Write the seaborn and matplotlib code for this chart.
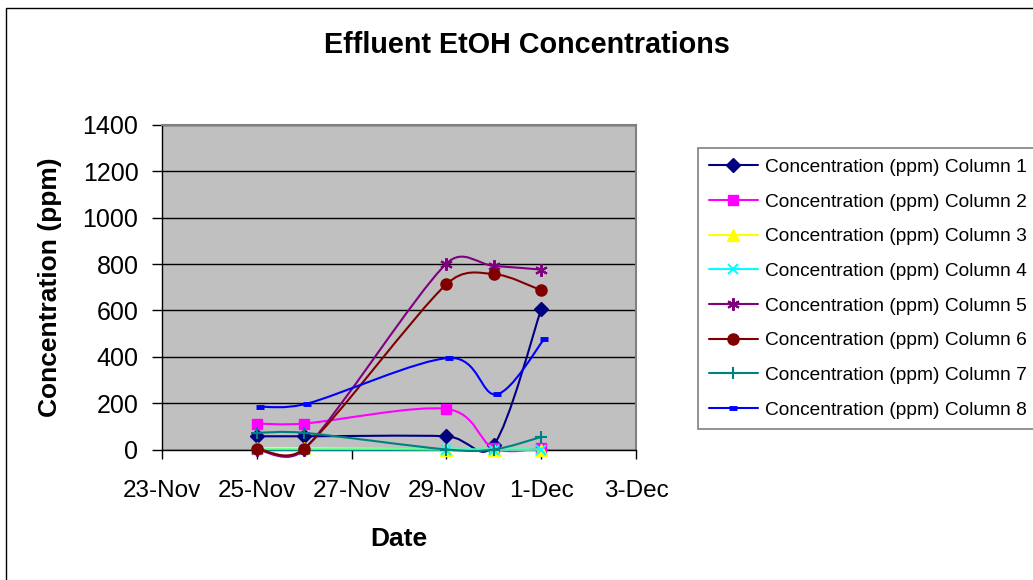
import numpy as np
import pandas as pd
import seaborn as sns
import matplotlib
matplotlib.use("Agg")
import matplotlib.pyplot as plt
import matplotlib.dates as mdates
from matplotlib.path import Path
from matplotlib.patches import PathPatch, Rectangle
from matplotlib.lines import Line2D


dates = pd.to_datetime(["2005-11-25", "2005-11-26", "2005-11-29", "2005-11-30", "2005-12-01"])
dates_col8 = pd.to_datetime(["2005-11-25 01:30", "2005-11-26 01:30", "2005-11-29 01:30",
                             "2005-11-30 01:30", "2005-12-01 01:30"])

col1 = [57, 57, 57, 20, 605]
col2 = [112, 112, 175, 5, 5]
col3 = [6, 6, 0, 0, 0]
col4 = [0, 0, 0, 0, 0]
col5 = [0, 0, 802, 792, 776]
col6 = [4, 4, 713, 757, 687]
col7 = [72, 72, 0, 0, 54]
col8 = [184, 198, 395, 238, 476]

tick_labels = ["23-Nov", "25-Nov", "27-Nov", "29-Nov", "1-Dec", "3-Dec"]
tick_dates = pd.to_datetime(["2005-11-23", "2005-11-25", "2005-11-27",
                             "2005-11-29", "2005-12-01", "2005-12-03"])

series = [
    ("Concentration (ppm) Column 1", dates, col1, "#000080", "D", 7, 1),
    ("Concentration (ppm) Column 2", dates, col2, "#FF00FF", "s", 7.5, 1),
    ("Concentration (ppm) Column 3", dates, col3, "#FFFF00", "^", 8, 1),
    ("Concentration (ppm) Column 4", dates, col4, "#00FFFF", "x", 7.5, 1.5),
    ("Concentration (ppm) Column 5", dates, col5, "#800080", (6, 2, 0), 9, 1.5),
    ("Concentration (ppm) Column 6", dates, col6, "#800000", "o", 8, 1),
    ("Concentration (ppm) Column 7", dates, col7, "#008080", "+", 9, 1.5),
    ("Concentration (ppm) Column 8", dates_col8, col8, "#0000FF", "_", 6, 3.5),
]


def smooth_path(ax, x, y, k=1 / 6):
    # excel-ish smoothed line, bezier handles capped at half the segment (in pixels)
    pts = ax.transData.transform(np.column_stack([x, y]).astype(float))
    n = len(pts)
    verts = [pts[0]]
    codes = [Path.MOVETO]
    for i in range(n - 1):
        p0 = pts[max(i - 1, 0)]
        p1 = pts[i]
        p2 = pts[i + 1]
        p3 = pts[min(i + 2, n - 1)]
        seg = np.hypot(*(p2 - p1))
        h1 = (p2 - p0) * k
        h2 = (p3 - p1) * k
        for h in (h1, h2):
            ln = np.hypot(*h)
            if ln > seg / 2:
                h *= (seg / 2) / ln
        verts += [p1 + h1, p2 - h2, p2]
        codes += [Path.CURVE4] * 3
    verts = ax.transData.inverted().transform(np.array(verts))
    return Path(verts, codes)


sns.set_style("white")
plt.rcParams['font.family'] = ['Liberation Sans', 'DejaVu Sans']
plt.rcParams.update({"text.color": "black", "axes.labelcolor": "black",
                     "xtick.color": "black", "ytick.color": "black"})

W, H = 1033, 580
fig = plt.figure(figsize=(W / 100, H / 100), dpi=100)
ax = fig.add_axes([162 / W, 1 - 449.5 / H, 474 / W, 324.5 / H])
ax.set_facecolor("#C0C0C0")
ax.set_xlim(mdates.date2num(tick_dates[0]), mdates.date2num(tick_dates[-1]))
ax.set_ylim(0, 1400)

handles = []
for i, (name, x, y, color, marker, ms, mew) in enumerate(series):
    xn = mdates.date2num(x)
    patch = PathPatch(smooth_path(ax, xn, y), facecolor="none", edgecolor=color,
                      lw=1.5, zorder=3 + 2 * i, clip_on=False)
    ax.add_patch(patch)
    df = pd.DataFrame({"date": x, "value": y})
    sns.lineplot(data=df, x="date", y="value", ax=ax, color=color, marker=marker,
                 markersize=ms, markeredgewidth=mew, markeredgecolor=color,
                 linestyle="", legend=False, zorder=4 + 2 * i, clip_on=False)
    handles.append(Line2D([], [], color=color, lw=1.5, marker=marker, markersize=ms,
                          markeredgewidth=mew, markeredgecolor=color, label=name))

ax.set_xlim(mdates.date2num(tick_dates[0]), mdates.date2num(tick_dates[-1]))
ax.set_ylim(0, 1400)
ax.set_yticks(range(0, 1401, 200))
ax.set_xticks(mdates.date2num(tick_dates))
ax.set_xticklabels(tick_labels)
ax.yaxis.grid(True, color="black", lw=1)
ax.xaxis.grid(False)

ax.tick_params(axis="x", direction="out", length=6.5, width=1, color="black", pad=15.5,
               labelsize=17.5, bottom=True)
ax.tick_params(axis="y", direction="out", length=7, width=1, color="black", pad=10,
               labelsize=18, left=True)

for s in ["left", "bottom"]:
    ax.spines[s].set_color("black")
    ax.spines[s].set_linewidth(1)
for s in ["top", "right"]:
    ax.spines[s].set_color("#808080")
    ax.spines[s].set_linewidth(1.5)

ax.set_xlabel("Date", fontsize=19, fontweight="bold")
ax.set_ylabel("Concentration (ppm)", fontsize=19, fontweight="bold")
ax.xaxis.set_label_coords(0.5, -(539 - 449.5) / 324.5)
ax.xaxis.label.set_va("center")
ax.yaxis.set_label_coords((50 - 162) / 474, (449.5 - 287) / 324.5)
ax.yaxis.label.set_va("center")

fig.text(527 / W, 1 - 45 / H, "Effluent EtOH Concentrations", ha="center", va="center",
         fontsize=20.7, fontweight="bold")

leg = fig.legend(handles=handles, loc="upper left", bbox_to_anchor=(698 / W, 1 - 148 / H),
                 bbox_transform=fig.transFigure, fontsize=13.8, frameon=True, fancybox=False,
                 framealpha=1, edgecolor="#808080", borderpad=0.55, borderaxespad=0,
                 handlelength=2.6, handletextpad=0.36, labelspacing=0.9)
leg.get_frame().set_linewidth(1.2)

fig.patches.append(Rectangle((6 / W, -0.1), 1.2, 1 - 8 / H + 0.1, transform=fig.transFigure,
                             fill=False, edgecolor="black", lw=1))

fig.savefig("out.png", dpi=100)
